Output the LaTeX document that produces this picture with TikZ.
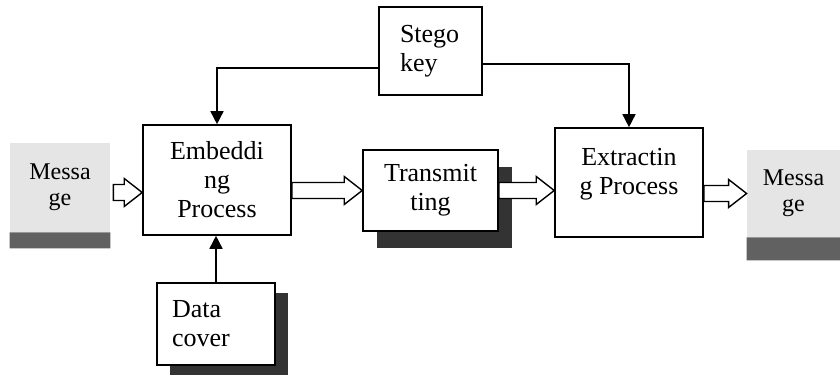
\documentclass[tikz,border=0pt]{standalone}
\usepackage{fontspec}
\setmainfont{Liberation Serif}
\usetikzlibrary{arrows.meta,calc,shadows}

\tikzset{
  box/.style={draw, line width=0.8pt, fill=white, align=center,
    font=\fontsize{13pt}{14.5pt}\selectfont},
  msg/.style={fill=black!10, align=center, inner sep=0pt,
    font=\fontsize{12pt}{13pt}\selectfont},
  tip/.style={line width=0.8pt, -{Triangle[length=6.5pt,width=6.5pt]}},
  fat/.style={draw, fill=white, line width=0.7pt, to path={
    let \p1=(\tikztostart), \p2=(\tikztotarget) in
    (\x1,\y1+4pt) -- (\x2-9pt,\y1+4pt) -- (\x2-9pt,\y1+7pt) -- (\x2,\y1)
    -- (\x2-9pt,\y1-7pt) -- (\x2-9pt,\y1-4pt) -- (\x1,\y1-4pt) -- cycle}},
}

\begin{document}
\begin{tikzpicture}[x=0.5pt, y=-0.5pt]
  \useasboundingbox (0,0) rectangle (840,383);

  \node (sk) [box, minimum height=44pt, text width=30.5pt, inner xsep=10.5pt,
    align=left] at (430.5,51) {Stego\\key};
  \node (emb) [box, minimum width=74pt, minimum height=55pt]
    at (217,180) {Embeddi\\ng\\Process};
  \node (tr) [box, drop shadow={shadow xshift=7pt, shadow yshift=-8.5pt,
    fill=black!80, opacity=1}, minimum width=67.5pt, minimum height=40.5pt]
    at (430.5,190.5) {Transmit\\ting};
  \node (ext) [box, minimum width=74pt, minimum height=54.5pt,
    label={[align=center, yshift=4pt, font=\fontsize{13pt}{14.5pt}\selectfont]
      center:Extractin\\g Process}]
    at (629,182.5) {};
  \node (dc) [box, drop shadow={shadow xshift=6.5pt, shadow yshift=-5pt,
    fill=black!80, opacity=1}, minimum height=41pt, text width=44pt,
    inner xsep=7.5pt, align=left] at (216,324) {Data\\cover};

  \node (msgL) [msg, minimum width=50pt, minimum height=44.5pt]
    at (60,187.5) {Messa\\ge};
  \node (msgR) [msg, minimum width=46.5pt, minimum height=43.5pt]
    at (793.5,193.5) {Messa\\ge};
  \fill[black!62]
    (msgL.south west) rectangle ([yshift=-8pt]msgL.south east)
    (msgR.south west) rectangle ([yshift=-11.5pt]msgR.south east)
  ;

  \draw[tip] ([yshift=-8.5pt]sk.west) -| (emb.north);
  \draw[tip] ([yshift=-6.5pt]sk.east) -| (ext.north);
  \draw[tip] (dc.north) -- (dc.north |- emb.south);

  \draw[fat] ([xshift=1.5pt, yshift=-2.5pt]msgL.east) to (emb.west);
  \draw[fat] (emb.east |- tr) to (tr.west);
  \draw[fat] (tr.east) to (ext.west);
  \draw[fat] (ext.east |- msgR) to (msgR.west);
\end{tikzpicture}
\end{document}
